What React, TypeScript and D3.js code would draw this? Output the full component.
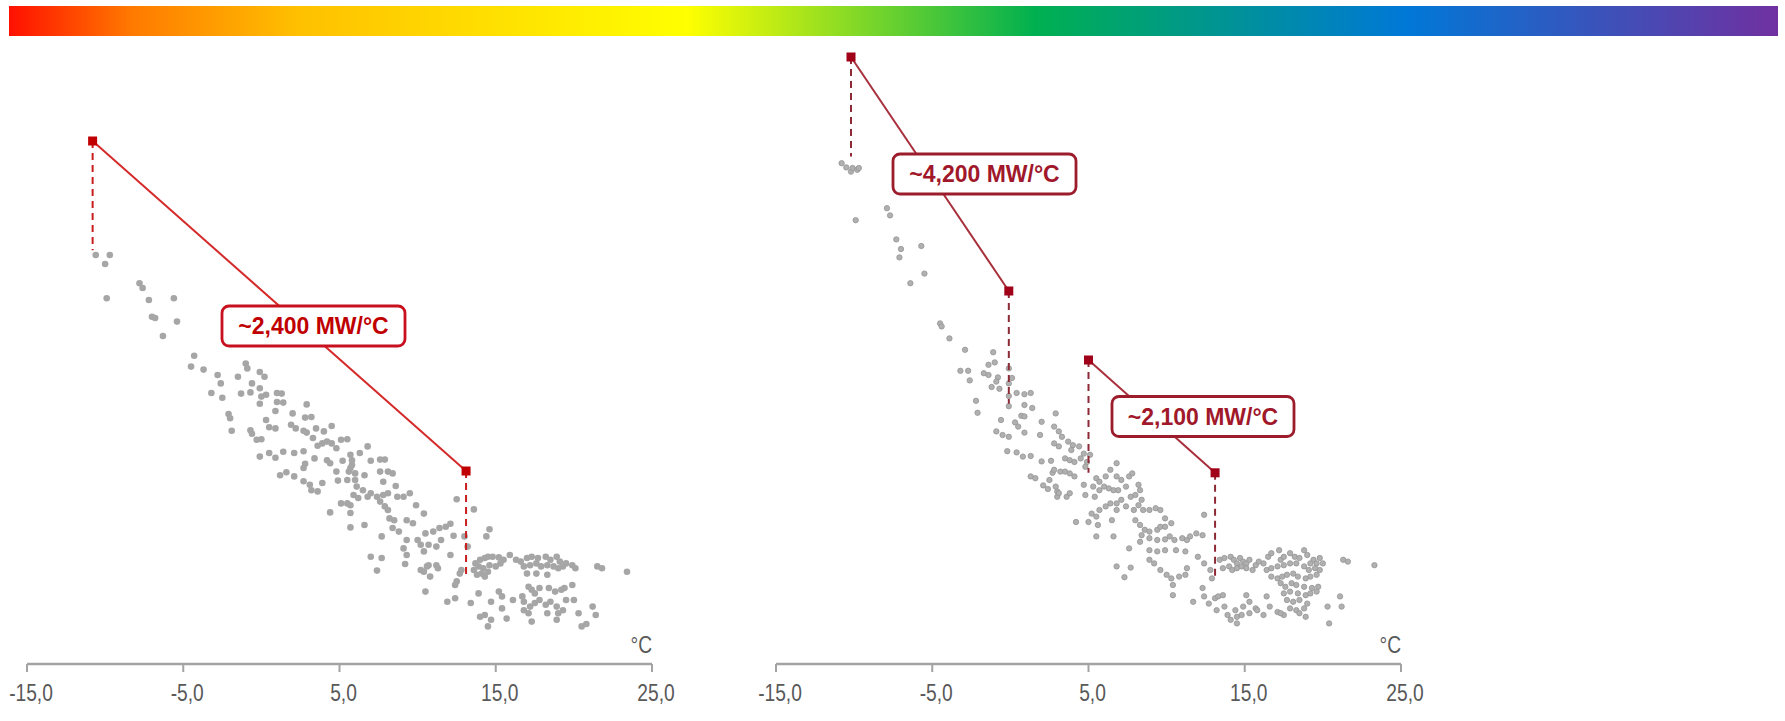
import React from "react";
import * as d3 from "d3";

// ---------- data ----------
const TEMP_TICKS = [-15, -5, 5, 15, 25];
const X_DOMAIN: [number, number] = [-15, 25];
const Y_DOMAIN: [number, number] = [30, 130]; // GW
const UNIT_LABEL = "°C";

// Left panel: temperature (°C) and load (GW)
const LEFT_TEMP = [
  -10.6, -9.7, -10.0, -7.8, -7.6, -9.9, -7.2, -5.6, -7.0, -6.8, -5.4, -6.3, -4.3, -4.5, -3.7, -2.8, -2.6, -1.0, -0.9, -1.5,
  -0.1, 0.2, -0.6, -0.1, -3.2, -1.3, 1.0, 1.3, 0.0, -2.5, -0.7, -0.1, 1.4, 1.0, 0.9, -2.1, -2.0, -1.9, 0.3, 0.5,
  0.9, -0.7, -0.6, -0.3, 0.0, 2.0, 2.9, 2.8, 3.2, 1.9, 2.2, 2.7, 2.9, 3.5, 3.3, 4.0, 4.5, -0.1, 0.5, 0.9,
  1.4, 2.1, 2.7, 3.6, 3.9, 4.2, 4.5, 4.8, 5.1, 5.5, 5.7, 6.3, 6.8, 3.4, 4.2, 4.4, 5.2, 5.8, 7.0, 7.6,
  7.9, 2.8, 2.7, 1.2, 1.6, 2.1, 2.7, 3.1, 3.2, 3.6, 3.9, 4.8, 4.9, 5.5, 5.6, 5.7, 5.8, 6.0, 6.0, 6.6,
  7.6, 8.1, 8.4, 7.8, 8.6, 6.1, 6.5, 7.0, 6.8, 5.9, 6.2, 5.1, 5.5, 5.7, 4.4, 5.7, 5.7, 6.6, 7.4, 7.8,
  8.1, 7.6, 7.9, 8.1, 8.7, 9.1, 9.5, 8.2, 8.5, 8.8, 8.4, 7.7, 9.3, 9.7, 9.9, 10.4, 9.3, 10.0, 10.2, 9.1,
  9.3, 9.2, 7.0, 7.7, 7.4, 10.2, 10.6, 10.5, 12.5, 13.6, 14.6, 14.4, 10.5, 11.0, 11.4, 11.8, 12.1, 12.3, 13.0, 13.2,
  10.7, 11.2, 11.5, 12.1, 10.4, 10.7, 11.2, 11.3, 10.4, 10.8, 12.7, 12.8, 12.5, 12.4, 13.7, 14.0, 14.3, 14.5, 14.8, 15.2,
  15.5, 15.9, 16.3, 16.6, 17.0, 17.3, 17.7, 18.2, 18.5, 18.9, 19.1, 19.5, 19.9, 20.1, 13.9, 14.2, 14.6, 15.0, 15.3, 16.8,
  17.2, 17.6, 17.9, 18.3, 18.7, 19.0, 19.3, 14.1, 14.5, 17.6, 18.3, 17.0, 13.6, 13.8, 14.3, 21.5, 21.8, 23.4, 13.9, 15.2,
  15.4, 14.7, 15.4, 16.1, 16.7, 16.8, 17.1, 17.3, 17.5, 17.8, 18.4, 18.8, 19.2, 19.4, 19.9, 19.5, 20.0, 16.8, 17.2, 17.5,
  17.8, 18.2, 18.5, 18.9, 19.0, 19.3, 18.3, 17.1, 13.4, 11.9, 12.4, 14.0, 14.3, 14.7, 14.5, 15.7, 17.3, 18.9, 20.3, 21.2,
  21.4, 20.5, 20.8, 0.3,
];
const LEFT_LOAD = [
  97.5, 97.5, 96.0, 92.8, 92.0, 90.3, 90.0, 90.3, 87.2, 87.0, 86.4, 84.0, 80.7, 78.9, 78.4, 77.5, 76.1, 79.4, 78.6, 77.2,
  78.0, 77.2, 76.1, 75.3, 74.5, 74.4, 74.5, 74.4, 73.9, 73.7, 74.6, 72.7, 72.9, 73.0, 71.5, 71.0, 70.3, 68.2, 70.0, 68.8,
  68.6, 68.3, 67.7, 66.7, 66.8, 71.1, 72.6, 70.4, 70.5, 69.2, 68.6, 68.2, 67.9, 68.6, 67.0, 68.1, 69.0, 63.9, 64.5, 63.7,
  64.7, 64.5, 64.8, 65.7, 66.1, 66.4, 66.1, 65.3, 66.7, 66.8, 64.2, 64.5, 65.6, 63.6, 63.3, 62.8, 63.2, 63.3, 63.2, 63.4,
  63.4, 62.7, 62.0, 60.8, 61.3, 60.6, 59.8, 59.2, 58.3, 58.1, 59.5, 61.4, 59.9, 60.0, 61.4, 62.0, 62.5, 61.1, 60.0, 60.8,
  61.4, 61.4, 61.1, 59.7, 59.0, 58.9, 58.3, 57.8, 57.2, 57.5, 57.0, 56.1, 56.1, 55.8, 54.6, 54.5, 52.1, 52.5, 57.2, 57.5,
  57.8, 56.4, 55.6, 55.0, 57.2, 57.2, 57.8, 53.6, 53.3, 51.4, 52.0, 50.6, 53.3, 52.8, 55.8, 54.4, 50.0, 50.0, 49.2, 48.6,
  47.5, 46.0, 47.2, 47.0, 44.9, 45.0, 45.6, 41.4, 56.8, 55.1, 51.8, 50.6, 51.1, 51.4, 52.0, 52.2, 52.7, 50.7, 50.6, 48.9,
  49.2, 48.9, 50.0, 47.5, 48.1, 45.8, 45.8, 45.3, 44.7, 43.9, 44.4, 45.0, 43.1, 42.5, 46.1, 46.7, 47.0, 47.2, 47.2, 47.1,
  46.7, 47.5, 46.7, 46.4, 47.0, 47.2, 47.0, 47.2, 46.7, 47.2, 46.4, 46.1, 45.8, 45.3, 45.6, 45.3, 45.8, 45.6, 46.1, 45.6,
  45.8, 46.1, 45.6, 45.8, 45.6, 45.3, 45.6, 44.4, 44.7, 44.4, 44.2, 44.4, 45.0, 44.2, 43.9, 45.6, 45.3, 44.7, 41.1, 41.4,
  40.6, 39.7, 38.6, 40.0, 40.6, 39.7, 42.2, 41.7, 41.1, 42.0, 42.0, 41.4, 41.7, 42.0, 42.5, 40.0, 40.0, 38.3, 38.9, 39.5,
  40.0, 39.2, 39.7, 38.9, 37.8, 38.3, 37.8, 37.8, 39.5, 39.7, 40.3, 37.2, 37.5, 36.7, 35.6, 36.9, 36.4, 36.7, 37.8, 38.9,
  37.5, 35.6, 36.0, 74.2,
];

// Right panel
const RIGHT_TEMP = [
  -10.8, -10.5, -10.2, -10.1, -9.8, -9.7, -9.9, -7.9, -7.7, -7.3, -7.0, -7.1, -5.7, -6.4, -5.5, -4.5, -4.4, -3.9, -2.9, -1.1,
  -1.4, -1.0, -3.2, -2.7, -2.6, -1.7, -1.4, -0.8, -0.9, -0.7, -1.2, -0.1, 0.1, -0.1, 0.4, 0.9, 1.3, -0.1, -0.1, -2.2,
  -2.1, 0.9, 1.4, 0.7, 0.9, -0.6, 0.3, 0.5, 0.9, -0.9, -0.5, -0.1, 2.0, 1.9, 2.9, 2.8, 3.1, 2.8, 3.1, -0.2,
  0.4, 0.8, 1.3, 2.0, 2.6, 2.7, 1.3, 1.6, 2.1, 2.4, 2.5, 3.0, 3.0, 3.3, 3.7, 4.0, 3.9, 4.4, 3.5, 3.8,
  4.1, 4.5, 4.7, 5.1, 4.9, 4.8, 2.8, 3.2, 3.5, 3.8, 4.1, 2.9, 3.1, 3.6, 3.8, 4.7, 4.8, 5.3, 5.5, 5.7,
  6.1, 6.4, 6.8, 5.7, 6.0, 6.3, 5.4, 6.8, 7.1, 7.6, 7.8, 6.6, 6.9, 7.4, 6.4, 6.8, 7.1, 7.7, 8.0, 8.3,
  8.2, 6.1, 5.7, 5.2, 5.5, 5.0, 4.2, 5.6, 6.5, 6.8, 7.4, 7.9, 8.2, 8.4, 8.5, 8.9, 9.3, 9.6, 9.9, 8.0,
  8.3, 8.6, 8.9, 9.4, 9.6, 9.9, 10.3, 5.5, 6.6, 7.6, 8.4, 8.3, 8.9, 9.4, 9.9, 10.2, 10.5, 11.0, 11.3, 11.5,
  11.9, 12.3, 12.4, 8.9, 9.4, 9.9, 10.6, 11.2, 8.9, 9.2, 9.6, 10.0, 10.3, 10.8, 11.2, 11.3, 12.0, 12.4, 12.8, 12.9,
  6.8, 7.7, 7.3, 10.4, 10.4, 12.3, 12.4, 11.7, 12.7, 13.1, 13.3, 13.6, 13.2, 13.7, 13.9, 14.4, 14.5, 14.1, 14.9, 15.1,
  15.3, 15.7, 15.3, 13.4, 13.7, 14.1, 14.3, 14.5, 14.7, 14.9, 15.1, 15.3, 15.7, 15.9, 16.2, 16.5, 16.7, 17.2, 17.3, 17.5,
  17.9, 18.2, 18.5, 18.8, 19.0, 19.4, 19.8, 20.0, 19.6, 19.2, 13.6, 14.0, 14.2, 14.5, 14.8, 15.1, 15.5, 16.4, 16.7, 17.1,
  17.5, 17.9, 18.3, 18.8, 19.1, 19.5, 19.8, 16.7, 17.1, 17.4, 17.7, 18.1, 18.4, 18.9, 19.2, 19.6, 17.3, 17.6, 18.0, 18.3,
  18.8, 19.3, 19.7, 17.5, 17.9, 18.4, 18.9, 19.2, 19.6, 17.7, 18.1, 18.5, 19.0, 17.9, 18.3, 18.8, 18.5, 18.9, 16.4, 16.6,
  17.1, 17.5, 15.8, 16.2, 17.3, 21.3, 21.6, 23.3, 20.3, 21.1, 21.2, 20.4, 14.5, 14.8,
];
const RIGHT_LOAD = [
  112.8, 112.1, 111.4, 112.0, 111.7, 112.0, 103.3, 105.3, 104.1, 100.1, 98.5, 97.1, 99.0, 92.8, 94.4, 86.1, 85.6, 83.6, 81.7, 81.3,
  79.2, 79.6, 78.2, 78.2, 76.6, 77.8, 77.5, 77.1, 76.4, 75.2, 75.5, 78.6, 77.0, 76.1, 74.5, 74.3, 74.5, 74.0, 72.3, 73.2,
  71.2, 72.5, 72.0, 70.7, 70.6, 70.0, 69.6, 68.9, 67.9, 68.1, 67.5, 67.2, 69.7, 67.5, 71.1, 68.9, 68.1, 66.1, 65.6, 64.8,
  64.6, 63.9, 64.0, 63.1, 63.2, 61.2, 60.6, 60.3, 59.1, 58.5, 60.0, 58.1, 57.2, 67.2, 66.4, 65.8, 65.0, 65.6, 63.6, 63.3,
  63.0, 63.6, 64.4, 64.2, 63.0, 62.2, 61.7, 61.4, 61.4, 61.1, 60.6, 58.9, 57.8, 57.2, 57.8, 59.2, 57.5, 58.9, 60.3, 59.7,
  60.6, 61.7, 62.8, 58.3, 58.9, 58.6, 57.2, 60.6, 60.0, 60.6, 61.1, 58.3, 58.3, 58.9, 56.1, 56.1, 56.7, 57.2, 57.5, 58.3,
  59.2, 55.6, 55.0, 54.4, 53.9, 53.0, 53.0, 52.5, 53.3, 55.0, 55.6, 55.0, 55.8, 56.7, 55.0, 55.0, 55.3, 55.0, 53.6, 53.3,
  52.5, 51.7, 51.4, 51.7, 52.2, 52.2, 52.8, 50.6, 50.6, 48.6, 50.8, 49.7, 50.3, 50.0, 50.1, 50.6, 50.0, 50.3, 50.0, 50.6,
  51.1, 50.8, 54.2, 48.3, 48.1, 48.3, 48.3, 48.1, 46.7, 46.1, 45.0, 44.2, 43.6, 43.9, 44.2, 45.3, 47.2, 46.1, 45.0, 43.6,
  45.6, 45.4, 43.8, 42.5, 40.8, 42.0, 40.6, 39.7, 39.4, 40.3, 40.6, 40.8, 38.3, 38.9, 37.5, 38.3, 37.2, 36.7, 38.9, 40.8,
  39.7, 38.6, 37.8, 46.7, 47.0, 47.2, 46.7, 46.1, 47.0, 46.4, 46.1, 46.7, 45.8, 46.4, 46.1, 47.2, 47.8, 48.3, 46.7, 47.2,
  47.8, 47.2, 47.0, 48.3, 47.5, 46.7, 47.0, 46.1, 46.1, 46.1, 45.3, 45.6, 45.0, 45.3, 45.6, 45.3, 45.0, 45.0, 45.3, 45.6,
  45.8, 46.1, 46.1, 45.6, 45.0, 45.3, 45.0, 43.9, 43.6, 43.9, 44.2, 44.4, 43.9, 43.6, 43.9, 44.2, 42.8, 42.2, 42.8, 42.5,
  42.2, 42.0, 42.2, 41.1, 41.4, 41.1, 40.8, 41.1, 41.4, 40.0, 39.7, 40.0, 39.4, 38.6, 38.3, 38.6, 37.8, 37.2, 40.6, 38.9,
  38.0, 37.5, 38.3, 37.5, 37.8, 46.7, 46.4, 45.8, 38.9, 40.6, 38.9, 36.1, 36.1, 37.5,
];

// Slope annotations (temperature °C, load GW) with the level each dashed drop reaches
const LEFT_SLOPES = [
  { label: "~2,400 MW/°C", t1: -10.8, v1: 116.5, d1: 98.3, t2: 13.1, v2: 61.5, d2: 43.7 },
];
const RIGHT_SLOPES = [
  { label: "~4,200 MW/°C", t1: -10.2, v1: 130.5, d1: 113.9, t2: -0.1, v2: 91.5, d2: 72.7 },
  { label: "~2,100 MW/°C", t1: 5.0, v1: 80.0, d1: 61.2, t2: 13.1, v2: 61.2, d2: 43.7 },
];

// Gradient colour bar stops
const BAR_STOPS = [
  { o: 0, c: "#FF1000" },
  { o: 0.07, c: "#FF7A00" },
  { o: 0.163, c: "#FFC000" },
  { o: 0.383, c: "#FFFF00" },
  { o: 0.58, c: "#00B050" },
  { o: 0.79, c: "#0078D7" },
  { o: 1, c: "#7030A0" },
];

// ---------- layout ----------
const W = 1785;
const H = 721;
const AXIS_Y = 664;
const FONT = "'Liberation Sans', Arial, sans-serif";
const NARROW = 0.8;
const TICK_FS = 24;

const locale = d3.formatLocale({ decimal: ",", thousands: " ", grouping: [3], currency: ["", ""], minus: "-" });
const fmt = locale.format(".1f");

type Slope = { label: string; t1: number; v1: number; d1: number; t2: number; v2: number; d2: number };

function Panel(props: {
  temps: number[];
  loads: number[];
  slopes: Slope[];
  range: [number, number];
  boxes: { cx: number; cy: number; w: number }[];
  dot: { r: number; fill: string; stroke: string; sw: number };
  col: { line: string; dash: string; sq: string; box: string; text: string };
}) {
  const { temps, loads, slopes, range, boxes, dot, col } = props;
  const x = d3.scaleLinear().domain(X_DOMAIN).range(range);
  const y = d3.scaleLinear().domain(Y_DOMAIN).range([660, 60]);
  const sq = 9;
  return (
    <g>
      {/* axis */}
      <line x1={x(X_DOMAIN[0])} x2={x(X_DOMAIN[1])} y1={AXIS_Y} y2={AXIS_Y} stroke="#A3A3A3" strokeWidth={2.5} />
      {TEMP_TICKS.map((t) => (
        <g key={t}>
          <line x1={x(t)} x2={x(t)} y1={AXIS_Y} y2={AXIS_Y + 8} stroke="#A3A3A3" strokeWidth={2} />
          <g transform={`translate(${x(t) + 4},701) scale(${NARROW},1)`}>
            <text x={0} y={0} textAnchor="middle" fontFamily={FONT} fontSize={TICK_FS} fill="#595959">
              {fmt(t)}
            </text>
          </g>
        </g>
      ))}
      <g transform={`translate(${x(X_DOMAIN[1])},653) scale(${NARROW},1)`}>
        <text x={0} y={0} textAnchor="end" fontFamily={FONT} fontSize={TICK_FS} fill="#595959">
          {UNIT_LABEL}
        </text>
      </g>
      {/* dots */}
      {temps.map((t, i) => (
        <circle key={i} cx={x(t)} cy={y(loads[i])} r={dot.r} fill={dot.fill} stroke={dot.stroke} strokeWidth={dot.sw} />
      ))}
      {/* slopes */}
      {slopes.map((s, i) => (
        <g key={s.label}>
          <line x1={x(s.t1)} x2={x(s.t1)} y1={y(s.v1)} y2={y(s.d1)} stroke={col.dash} strokeWidth={2} strokeDasharray="7,5" />
          <line x1={x(s.t2)} x2={x(s.t2)} y1={y(s.v2)} y2={y(s.d2)} stroke={col.dash} strokeWidth={2} strokeDasharray="7,5" />
          <line x1={x(s.t1)} x2={x(s.t2)} y1={y(s.v1)} y2={y(s.v2)} stroke={col.line} strokeWidth={2} />
          <rect x={x(s.t1) - sq / 2} y={y(s.v1) - sq / 2} width={sq} height={sq} fill={col.sq} />
          <rect x={x(s.t2) - sq / 2} y={y(s.v2) - sq / 2} width={sq} height={sq} fill={col.sq} />
          <rect
            x={boxes[i].cx - boxes[i].w / 2}
            y={boxes[i].cy - 20}
            width={boxes[i].w}
            height={40}
            rx={7}
            fill="#FFFFFF"
            stroke={col.box}
            strokeWidth={2.8}
          />
          <text
            x={boxes[i].cx}
            y={boxes[i].cy + 8}
            textAnchor="middle"
            fontFamily={FONT}
            fontWeight="bold"
            fontSize={23}
            fill={col.text}
          >
            {s.label}
          </text>
        </g>
      ))}
    </g>
  );
}

export default function App() {
  return (
    <div style={{ position: "absolute", left: 0, top: 0 }}>
      <svg width={W} height={H} style={{ display: "block", background: "#FFFFFF" }}>
        <defs>
          <linearGradient id="bar" x1="0" x2="1" y1="0" y2="0">
            {BAR_STOPS.map((s) => (
              <stop key={s.o} offset={s.o} stopColor={s.c} />
            ))}
          </linearGradient>
        </defs>
        <rect x={9} y={6} width={1769} height={30} fill="url(#bar)" />
        <Panel
          temps={LEFT_TEMP}
          loads={LEFT_LOAD}
          slopes={LEFT_SLOPES}
          range={[27, 652]}
          boxes={[{ cx: 313.5, cy: 326, w: 183 }]}
          dot={{ r: 3.3, fill: "#A6A6A6", stroke: "none", sw: 0 }}
          col={{ line: "#D42A2A", dash: "#C81E1E", sq: "#C00000", box: "#C8101E", text: "#C00000" }}
        />
        <Panel
          temps={RIGHT_TEMP}
          loads={RIGHT_LOAD}
          slopes={RIGHT_SLOPES}
          range={[776, 1401]}
          boxes={[
            { cx: 984.5, cy: 174, w: 183 },
            { cx: 1203, cy: 416.5, w: 182 },
          ]}
          dot={{ r: 2.7, fill: "#B0B0B0", stroke: "#959595", sw: 0.8 }}
          col={{ line: "#A8303C", dash: "#8E2A36", sq: "#A00018", box: "#9C1C2C", text: "#A0182A" }}
        />
      </svg>
    </div>
  );
}
